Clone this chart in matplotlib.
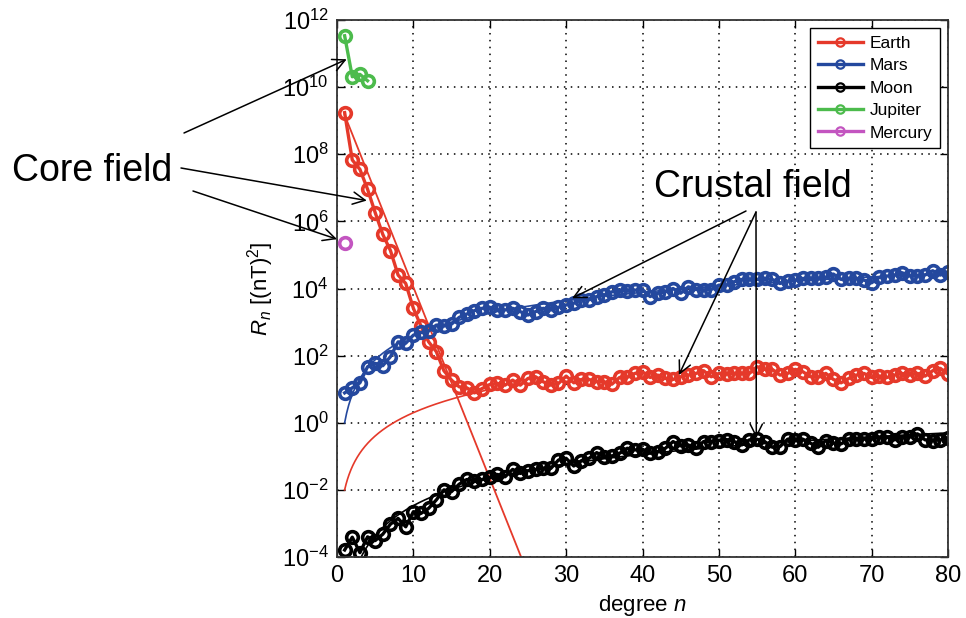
import numpy as np
import matplotlib as mpl
mpl.use("Agg")
import matplotlib.pyplot as plt

mpl.rcParams.update({
    "font.family": ["Liberation Sans", "DejaVu Sans"],
    "mathtext.fontset": "custom",
    "mathtext.rm": "Liberation Sans",
    "mathtext.it": "Liberation Sans:italic",
    "mathtext.bf": "Liberation Sans:bold",
})

# log10 of R_n
earth_log = [9.24, 7.83, 7.55, 6.96, 6.26, 5.61, 5.13, 4.40, 4.15, 3.41,
             2.88, 2.41, 2.12, 1.55, 1.27, 1.07, 1.04, 0.89, 1.02, 1.14,
             1.17, 1.12, 1.27, 1.12, 1.32, 1.37, 1.22, 1.12, 1.17, 1.39,
             1.19, 1.29, 1.29, 1.22, 1.22, 1.15, 1.35, 1.35, 1.47, 1.52,
             1.35, 1.42, 1.32, 1.29, 1.37, 1.42, 1.47, 1.55, 1.37, 1.47,
             1.45, 1.47, 1.47, 1.47, 1.67, 1.59, 1.59, 1.42, 1.47, 1.59,
             1.52, 1.37, 1.35, 1.47, 1.29, 1.19, 1.32, 1.42, 1.47, 1.35,
             1.39, 1.35, 1.42, 1.47, 1.42, 1.47, 1.39, 1.55, 1.62, 1.45]
mars_log = [0.89, 1.04, 1.19, 1.67, 1.77, 1.70, 1.97, 2.41, 2.37, 2.61,
            2.69, 2.73, 2.91, 2.88, 2.94, 3.14, 3.24, 3.34, 3.41, 3.44,
            3.36, 3.36, 3.41, 3.31, 3.21, 3.31, 3.41, 3.36, 3.44, 3.51,
            3.56, 3.66, 3.66, 3.76, 3.81, 3.90, 3.95, 3.93, 3.95, 3.97,
            3.76, 3.86, 3.90, 4.00, 3.86, 4.05, 3.97, 3.95, 3.97, 4.10,
            4.10, 4.20, 4.27, 4.27, 4.27, 4.30, 4.27, 4.15, 4.22, 4.25,
            4.30, 4.30, 4.30, 4.33, 4.43, 4.27, 4.30, 4.30, 4.25, 4.17,
            4.33, 4.37, 4.40, 4.47, 4.37, 4.37, 4.40, 4.53, 4.40, 4.50]
moon_log = [-3.79, -3.41, -3.87, -3.40, -3.51, -3.32, -3.02, -2.85, -3.10, -2.65,
            -2.70, -2.55, -2.30, -2.00, -2.05, -1.83, -1.69, -1.73, -1.69, -1.63,
            -1.54, -1.61, -1.39, -1.51, -1.43, -1.39, -1.36, -1.36, -1.11, -1.06,
            -1.29, -1.13, -1.06, -0.89, -1.01, -0.99, -0.91, -0.76, -0.81, -0.79,
            -0.91, -0.86, -0.76, -0.56, -0.69, -0.66, -0.76, -0.56, -0.56, -0.53,
            -0.50, -0.56, -0.66, -0.51, -0.49, -0.56, -0.73, -0.71, -0.49, -0.51,
            -0.49, -0.61, -0.73, -0.53, -0.61, -0.63, -0.49, -0.49, -0.49, -0.49,
            -0.43, -0.43, -0.51, -0.43, -0.43, -0.33, -0.51, -0.53, -0.51, -0.46]
jupiter_log = [11.53, 10.31, 10.38, 10.19]
mercury_log = [5.35]

# thin model curves
# core: log10 R = a + b*n
earth_core_fit = (9.74, -0.570, 25)
# crust: log10 R = c + a*L + b*L^2, L = log10(n); last degree drawn
earth_crust_fit = (-2.0, 2.3, 0.0, 20)
mars_crust_fit = (0.0, 2.89, -0.29, 80)
moon_crust_fit = (-5.77, 3.775, -0.474, 80)

c_earth = "#e5392a"
c_mars = "#24489e"
c_moon = "#000000"
c_jup = "#4cbb4c"
c_merc = "#c355c0"

fig = plt.figure(figsize=(9.66, 6.18), dpi=100)
ax = fig.add_axes([337/966, 1-557/618, (948-337)/966, (557-20)/618])

mk = dict(marker="o", mfc="none", ms=8.4, mew=2.6, lw=2.4)


def draw(logs, color, label):
    n = np.arange(1, len(logs)+1)
    ax.plot(n, 10.0**np.array(logs), color=color, label=label, **mk)


def crust(fit, color):
    c, a, b, nmax = fit
    n = np.linspace(1, nmax, 300)
    L = np.log10(n)
    ax.plot(n, 10.0**(c + a*L + b*L**2), color=color, lw=1.2)


# fits first (underneath)
a0, b0, nmax0 = earth_core_fit
nn = np.linspace(1, nmax0, 50)
ax.plot(nn, 10.0**(a0 + b0*nn), color=c_earth, lw=1.3)
crust(earth_crust_fit, c_earth)
crust(mars_crust_fit, c_mars)
crust(moon_crust_fit, c_moon)

draw(earth_log, c_earth, "Earth")
draw(mars_log, c_mars, "Mars")
draw(moon_log, c_moon, "Moon")
draw(jupiter_log, c_jup, "Jupiter")
draw(mercury_log, c_merc, "Mercury")

ax.set_yscale("log")
ax.set_xlim(0, 80)
ax.set_ylim(1e-4, 1e12)
yt = np.arange(-4, 13, 2)
ax.set_yticks(10.0**yt)
ax.set_yticklabels([r"$10^{%d}$" % k for k in yt])
ax.yaxis.set_minor_locator(mpl.ticker.NullLocator())
ax.set_xticks(np.arange(0, 81, 10))
ax.tick_params(which="both", direction="in", top=True, right=True,
               length=6, width=1.0, labelsize=17, pad=6)
ax.grid(True, color="black", linestyle=(0, (1, 3.5)), linewidth=1.1)
for s in ax.spines.values():
    s.set_linewidth(1.3)
    s.set_color("#333333")

ax.set_xlabel(r"degree $n$", fontsize=16, labelpad=4)
ax.set_ylabel(r"$R_n$ [(nT)$^2$]", fontsize=16, labelpad=4)

leg = ax.legend(loc="upper right", fontsize=12.5, fancybox=False,
                edgecolor="black", framealpha=1, handlelength=2.6,
                labelspacing=0.42, borderaxespad=0.45, handletextpad=0.4,
                borderpad=0.45)
leg.get_frame().set_linewidth(1.0)
for h in leg.legend_handles:
    h.set_markersize(6)
    h.set_markeredgewidth(1.6)

# annotations (figure pixel coords for text, data coords for arrow tips)
fig.text(12/966, 1-181/618, "Core field", fontsize=27, va="baseline", ha="left")
fig.text(753/966, 1-197/618, "Crustal field", fontsize=27, va="baseline", ha="center")

arr = dict(arrowstyle="->", color="black", lw=1.1, mutation_scale=22,
           shrinkA=0, shrinkB=0)
core_arrows = [((184, 133), (1.27, 10.83)), ((181, 168), (3.9, 6.62)),
               ((193, 191), (0.0, 5.47))]
crust_arrows = [((746, 211), (30.78, 3.71)), ((756, 212), (44.76, 1.42)),
                ((756, 212), (54.9, -0.455))]
for (px, py), (xn, ly) in core_arrows + crust_arrows:
    ax.annotate("", xy=(xn, 10.0**ly), xycoords="data",
                xytext=(px/966, 1-py/618), textcoords="figure fraction",
                arrowprops=arr, annotation_clip=False)

fig.savefig("out.png", dpi=100)
